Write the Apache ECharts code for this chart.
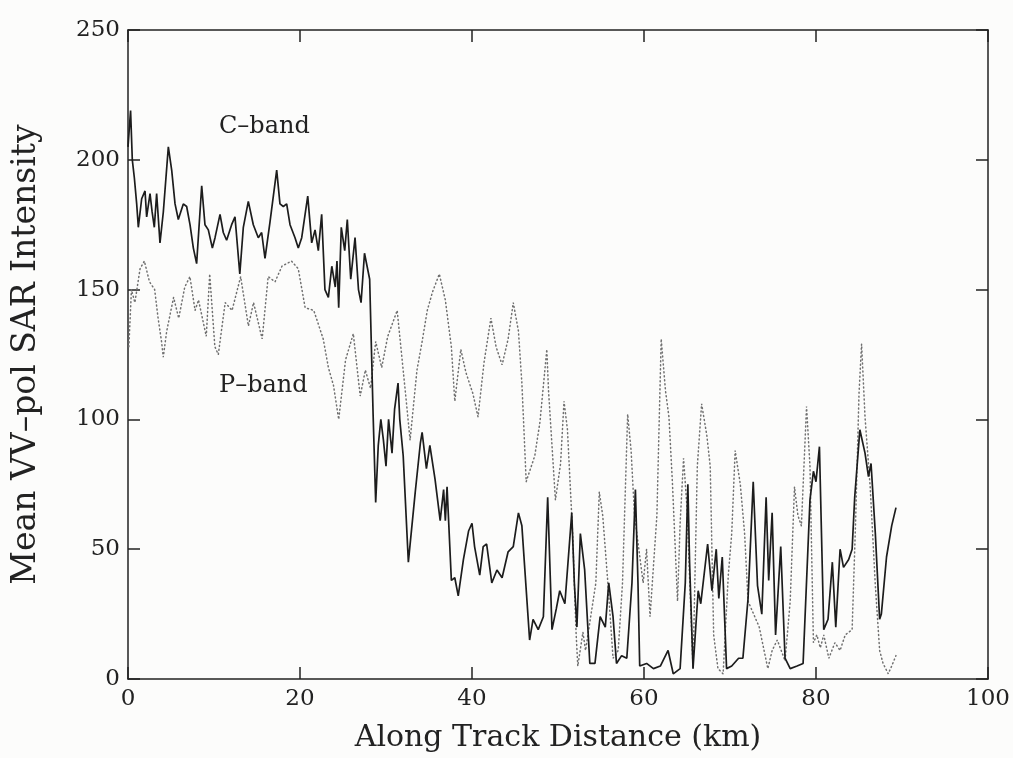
<!DOCTYPE html>
<html>
<head>
<meta charset="utf-8">
<script src="https://cdn.jsdelivr.net/npm/echarts@6/dist/echarts.min.js"></script>
<style>
html,body{margin:0;padding:0;background:#fcfcfb;}
#chart{width:1013px;height:758px;}
</style>
</head>
<body>
<div id="chart"></div>
<script>
// Along track distance (km) and mean VV-pol intensity, C-band
const cX = [0.0,0.3,0.5,0.74,1.01,1.2,1.59,1.98,2.17,2.56,2.8,3.06,3.33,3.72,4.11,4.69,5.08,5.47,5.85,6.43,6.82,7.21,7.6,7.98,8.57,8.95,9.34,9.81,10.12,10.7,11.08,11.47,12.05,12.44,13.0,13.41,13.99,14.57,15.15,15.54,15.93,16.51,17.29,17.67,18.06,18.45,18.84,19.42,19.8,20.2,20.9,21.36,21.75,22.13,22.52,22.9,23.3,23.7,24.1,24.3,24.5,24.8,25.2,25.5,25.9,26.4,26.8,27.1,27.5,27.8,28.1,28.3,28.5,28.8,29.1,29.4,29.7,30.0,30.3,30.7,31.0,31.4,31.6,32.0,32.6,33.4,34.0,34.2,34.7,35.1,35.7,36.3,36.7,36.9,37.1,37.6,38.0,38.4,39.0,39.6,40.0,40.3,40.9,41.3,41.7,42.3,42.9,43.5,44.2,44.8,45.4,45.8,46.7,47.1,47.7,48.3,48.8,49.3,49.8,50.2,50.8,51.6,51.9,52.2,52.6,53.1,53.7,54.3,54.9,55.5,55.9,56.4,56.8,57.4,58.0,58.6,59.0,59.3,59.5,60.3,61.1,61.9,62.8,63.4,64.2,64.8,65.1,65.3,65.7,66.3,66.6,67.4,67.9,68.4,68.7,69.1,69.6,70.2,71.0,71.5,72.1,72.7,73.2,73.7,74.2,74.5,74.9,75.3,75.9,76.4,77.0,77.8,78.5,79.3,79.7,80.0,80.4,80.9,81.4,81.9,82.3,82.8,83.2,83.8,84.2,84.5,85.1,85.7,86.1,86.4,86.9,87.4,87.6,88.2,88.8,89.3];
const cY = [205,219,200,193,183,174,185,188,178,187,180,174,187,168,180,205,196,183,177,183,182,175,166,160,190,175,173,166,170,179,172,169,175,178,156,174,184,175,170,172,162,176,196,183,182,183,175,170,166,170,186,168,173,165,179,150,147,159,151,161,143,174,165,177,154,170,150,145,164,159,154,128,102,68,90,100,92,82,100,87,104,114,100,86,45,72,91,95,81,90,77,61,73,61,74,38,39,32,46,57,60,51,40,51,52,37,42,39,49,51,64,59,15,23,19,24,70,19,27,34,29,64,37,20,56,42,6,6,24,20,37,24,6,9,8,37,73,37,5,6,4,5,11,2,4,37,75,45,4,34,29,52,34,50,31,47,4,5,8,8,31,76,36,25,70,38,64,17,51,8,4,5,6,69,80,76,89.5,19,23,45,20,50,43,46,50,70,96,87,78,83,56,23,25,47,59,66];

// P-band
const pX = [0.1,0.4,0.8,1.4,1.9,2.5,3.1,3.5,3.9,4.1,4.5,5.3,5.9,6.6,7.2,7.8,8.2,9.1,9.5,10.1,10.5,11.3,12.1,13.1,14.0,14.6,15.6,16.3,17.1,17.9,19.0,19.8,20.6,21.6,22.1,22.7,23.3,23.9,24.5,25.3,26.2,27.0,27.6,28.2,28.8,29.5,30.2,31.3,32.3,32.8,33.6,34.2,34.8,35.4,36.2,36.9,37.6,38.0,38.7,39.3,40.1,40.7,41.4,42.2,42.8,43.5,44.2,44.8,45.4,45.8,46.0,46.3,47.3,47.9,48.7,48.9,49.7,50.3,50.7,51.1,51.7,52.1,52.3,52.9,53.2,53.8,54.4,54.8,55.2,55.8,56.4,57.0,57.5,58.1,58.5,58.9,59.9,60.3,60.7,61.5,62.0,62.5,62.9,63.3,63.9,64.2,64.6,65.0,65.7,66.2,66.7,67.3,67.7,68.1,68.6,69.2,69.8,70.2,70.6,71.2,71.7,72.1,73.4,74.4,74.9,75.5,76.4,77.0,77.5,77.9,78.3,78.9,79.3,79.7,80.1,80.5,80.9,81.5,82.2,82.8,83.4,84.2,84.6,85.0,85.3,85.7,86.3,86.9,87.4,87.8,88.4,88.8,89.3];
const pY = [128,150,145,158,161,153,150,139,130,124,134,147,139,151,155,142,146,132,156,128,125,145,142,155,136,145,131,155,153,159,161,158,143,142,137,131,120,113,100,123,133,109,119,112,130,120,132,142,109,92,119,130,142,149,156,146,128,107,127,118,110,101,122,139,128,121,131,145,134,114,99,76,86,99,127,111,69,83,107,96,56,18,5,18,11,24,37,72,63,37,8,11,37,102,88,63,37,50,24,63,131,111,101,76,30,60,85,66,4,82,106,94,82,17,4,2,40,56,88,75,56,30,20,4,11,15,7,30,74,63,59,105,82,14,17,12,17,8,14,11,17,19,60,110,129,101,74,36,11,6,2,5,9];

const xTickInterval = 20, xMin = 0, xMax = 100;
const yTickInterval = 50, yMin = 0, yMax = 250;
const labels = {c: 'C\u2013band', p: 'P\u2013band'};

const FONT = '"DejaVu Serif", serif';
const INK = '#222222';
const chart = echarts.init(document.getElementById('chart'));

const axisLine = {show: true, onZero: false, lineStyle: {color: INK, width: 1.5}};
const axisTick = {show: true, inside: true, length: 12, lineStyle: {color: INK, width: 1.5}};

chart.setOption({
  backgroundColor: '#fcfcfb',
  animation: false,
  grid: {left: 128, right: 25, top: 30, bottom: 79},
  xAxis: [{
    type: 'value', min: xMin, max: xMax, interval: xTickInterval, position: 'bottom',
    axisLine, axisTick, splitLine: {show: false},
    axisLabel: {color: INK, fontFamily: FONT, fontSize: 23, margin: 9},
    name: 'Along Track Distance (km)', nameLocation: 'middle', nameGap: 44,
    nameTextStyle: {color: INK, fontFamily: FONT, fontSize: 30}
  }, {
    type: 'value', min: xMin, max: xMax, interval: xTickInterval, position: 'top',
    axisLine, axisTick, splitLine: {show: false}, axisLabel: {show: false}
  }],
  yAxis: [{
    type: 'value', min: yMin, max: yMax, interval: yTickInterval, position: 'left',
    axisLine, axisTick, splitLine: {show: false},
    axisLabel: {color: INK, fontFamily: FONT, fontSize: 23, margin: 8},
    name: 'Mean VV\u2013pol SAR Intensity', nameLocation: 'middle', nameGap: 85,
    nameTextStyle: {color: INK, fontFamily: FONT, fontSize: 33}
  }, {
    type: 'value', min: yMin, max: yMax, interval: yTickInterval, position: 'right',
    axisLine, axisTick, splitLine: {show: false}, axisLabel: {show: false}
  }],
  series: [{
    name: 'P-band', type: 'line', showSymbol: false, symbol: 'none',
    data: pX.map((x, i) => [x, pY[i]]),
    lineStyle: {color: '#707070', width: 1.5, type: [1, 3], cap: 'round'},
    z: 2
  }, {
    name: 'C-band', type: 'line', showSymbol: false, symbol: 'none',
    data: cX.map((x, i) => [x, cY[i]]),
    lineStyle: {color: '#1c1c1c', width: 1.7},
    z: 3
  }],
  graphic: [
    {type: 'text', left: 219, top: 115, style: {text: labels.c, font: '24px ' + FONT, fill: INK}},
    {type: 'text', left: 219, top: 374, style: {text: labels.p, font: '24px ' + FONT, fill: INK}}
  ]
});
</script>
</body>
</html>
